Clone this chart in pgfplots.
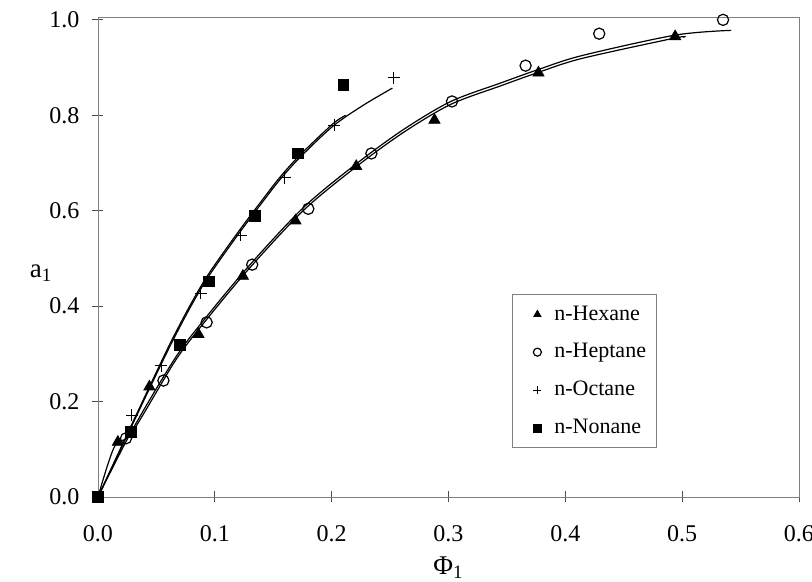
\documentclass[border=0pt]{standalone}
\usepackage{fontspec}
\setmainfont{Liberation Serif}
\usepackage{pgfplots}
\pgfplotsset{compat=1.18}

\begin{document}
\begin{tikzpicture}
\begin{axis}[
  scale only axis,
  width=350.5pt,
  height=240pt,
  xmin=0, xmax=0.6,
  ymin=0, ymax=1.006,
  xtick={0,0.1,0.2,0.3,0.4,0.5,0.6},
  ytick={0,0.2,0.4,0.6,0.8,1.0},
  xtick pos=bottom,
  ytick pos=left,
  tick align=center,
  major tick length=5.5pt,
  axis line style={draw=black!50},
  every tick/.style={black!70, line width=0.4pt},
  /pgf/number format/fixed,
  /pgf/number format/fixed zerofill,
  /pgf/number format/precision=1,
  /pgf/number format/assume math mode=true,
  tick label style={font=\fontsize{12}{14}\selectfont},
  xticklabel style={yshift=-8pt},
  yticklabel style={xshift=-3pt},
  xlabel={Φ\textsubscript{1}},
  ylabel={a\textsubscript{1}},
  label style={font=\fontsize{13.5}{15}\selectfont},
  xlabel style={at={(axis description cs:0.5,0)}, anchor=center, yshift=-35.5pt},
  ylabel style={rotate=-90, at={(axis description cs:0,0.466)}, anchor=center, xshift=-28.5pt},
  clip=false,
  legend style={at={(axis description cs:0.592,0.102)}, anchor=south west, xshift=-0.5pt,
    draw=black!50, line width=0.4pt, font=\fontsize{11}{13}\selectfont,
    row sep=6.2pt, inner xsep=3pt, inner ysep=3.5pt},
  legend cell align=left,
  legend image code/.code={\draw[#1,mark size=2pt] plot coordinates {(0cm,0cm)};
    \path[draw=none, fill=none] (-9.5pt,0pt) rectangle (6.5pt,0pt);},
]
% fitted curves
\addplot[black, line width=0.6pt, smooth, forget plot] coordinates {
  (0,0) (0.026,0.134) (0.045,0.232) (0.062,0.318) (0.078,0.393) (0.094,0.460)
  (0.119,0.547) (0.142,0.622) (0.156,0.666) (0.173,0.712) (0.201,0.777)
  (0.227,0.821) (0.252,0.857)
};
\addplot[black, line width=0.6pt, smooth, forget plot] coordinates {
  (0,0) (0.026,0.137) (0.045,0.236) (0.062,0.323) (0.078,0.398) (0.094,0.465)
  (0.119,0.552) (0.142,0.627) (0.156,0.671) (0.173,0.717) (0.201,0.782)
  (0.212,0.800)
};
\addplot[black, line width=0.6pt, smooth, forget plot] coordinates {
  (0,0) (0.029,0.139) (0.066,0.291) (0.090,0.369) (0.128,0.481) (0.176,0.607)
  (0.222,0.700) (0.262,0.771) (0.302,0.829) (0.345,0.868) (0.377,0.896)
  (0.414,0.925) (0.494,0.968) (0.542,0.978)
};
\addplot[black, line width=0.6pt, smooth, forget plot] coordinates {
  (0,0) (0.014,0.105) (0.029,0.135) (0.066,0.285) (0.090,0.363) (0.128,0.475)
  (0.176,0.601) (0.222,0.694) (0.262,0.765) (0.302,0.823) (0.345,0.862)
  (0.377,0.890) (0.414,0.919) (0.494,0.962) (0.501,0.963)
};

% measured points
\addplot[only marks, mark=triangle*, mark size=3.2pt, black] coordinates {
  (0.017,0.115) (0.044,0.231) (0.086,0.341) (0.124,0.463) (0.169,0.579)
  (0.221,0.693) (0.288,0.790) (0.377,0.889) (0.494,0.965)
};
\addlegendentry{n-Hexane}

\addplot[only marks, mark=o, mark size=2.8pt, black, mark options={fill=white, line width=0.6pt}] coordinates {
  (0.024,0.123) (0.056,0.244) (0.093,0.366) (0.132,0.487) (0.180,0.604)
  (0.234,0.720) (0.303,0.829) (0.366,0.904) (0.429,0.971) (0.535,1.000)
};
\addlegendentry{n-Heptane}

\addplot[only marks, mark=+, mark size=3pt, black, mark options={line width=0.5pt}] coordinates {
  (0.029,0.171) (0.054,0.275) (0.088,0.427) (0.122,0.549) (0.160,0.669)
  (0.202,0.779) (0.253,0.879)
};
\addlegendentry{n-Octane}

\addplot[only marks, mark=square*, mark size=2.7pt, black] coordinates {
  (0,0) (0.028,0.136) (0.070,0.319) (0.095,0.452) (0.134,0.589)
  (0.171,0.720) (0.210,0.863)
};
\addlegendentry{n-Nonane}
\end{axis}
\pgfresetboundingbox
\path[use as bounding box] ([shift={(-49pt,-42.5pt)}]current axis.south west)
  rectangle ([shift={(357pt,248.5pt)}]current axis.south west);
\end{tikzpicture}
\end{document}
